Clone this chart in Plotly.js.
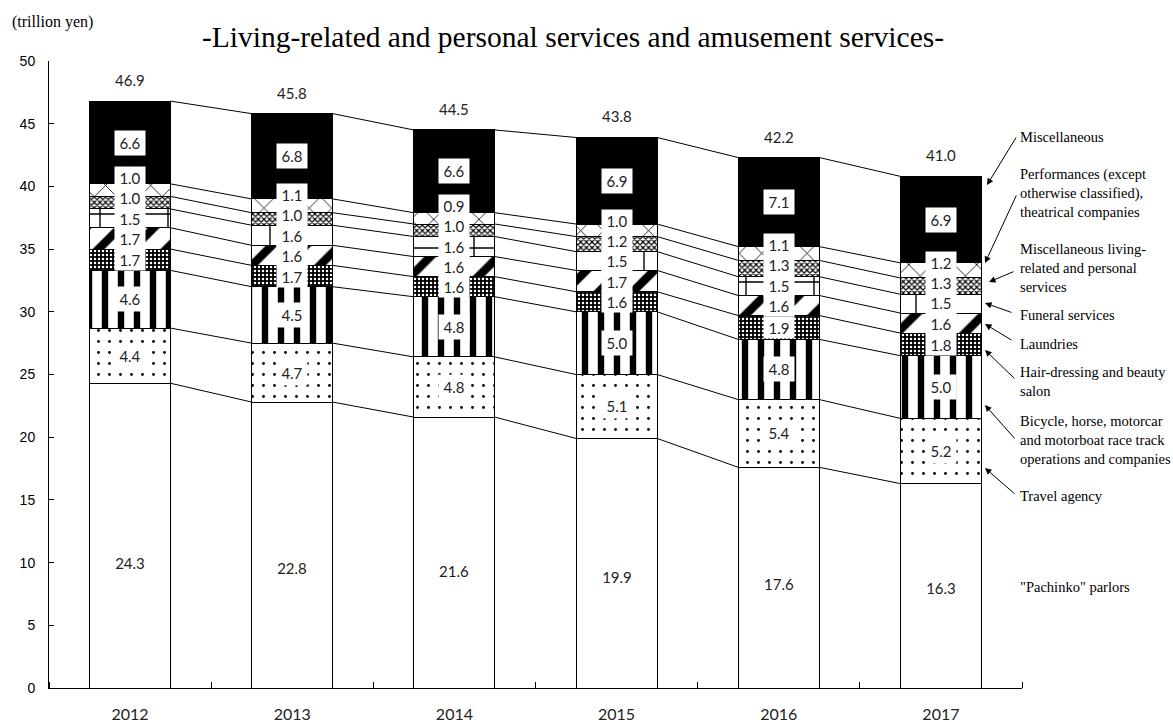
<!DOCTYPE html>
<html><head><meta charset="utf-8">
<script src="https://cdn.plot.ly/plotly-3.0.1.min.js"></script>
<style>body{margin:0;background:#fff}#chart{width:1173px;height:722px}</style>
</head><body><div id="chart"></div>
<script>
// ---- data (trillion yen) ----
const years = ['2012','2013','2014','2015','2016','2017'];
const totals = [46.9, 45.8, 44.5, 43.8, 42.2, 41.0];
const pachinko      = [24.3, 22.8, 21.6, 19.9, 17.6, 16.3];
const travelAgency  = [4.4, 4.7, 4.8, 5.1, 5.4, 5.2];
const raceTrack     = [4.6, 4.5, 4.8, 5.0, 4.8, 5.0];
const hairDressing  = [1.7, 1.7, 1.6, 1.6, 1.9, 1.8];
const laundries     = [1.7, 1.6, 1.6, 1.7, 1.6, 1.6];
const funeral       = [1.5, 1.6, 1.6, 1.5, 1.5, 1.5];
const miscLiving    = [1.0, 1.0, 1.0, 1.2, 1.3, 1.3];
const performances  = [1.0, 1.1, 0.9, 1.0, 1.1, 1.2];
const miscellaneous = [6.6, 6.8, 6.6, 6.9, 7.1, 6.9];

const seriesNames = ['"Pachinko" parlors','Travel agency',
  'Bicycle, horse, motorcar<br>and motorboat race track<br>operations and companies',
  'Hair-dressing and beauty<br>salon','Laundries','Funeral services',
  'Miscellaneous living-<br>related and personal<br>services',
  'Performances (except<br>otherwise classified),<br>theatrical companies','Miscellaneous'];
const seriesValues = [pachinko, travelAgency, raceTrack, hairDressing, laundries, funeral, miscLiving, performances, miscellaneous];

// ---- styles ----
const styles = [
  {color:'white'},
  {color:'white', pattern:{shape:'.', bgcolor:'white', fgcolor:'black', size:11, solidity:0.05}},
  {color:'white', pattern:{shape:'|', bgcolor:'white', fgcolor:'black', size:16, solidity:0.4}},
  {color:'black', pattern:{shape:'.', bgcolor:'black', fgcolor:'white', size:4, solidity:0.3}},
  {color:'white', pattern:{shape:'/', bgcolor:'white', fgcolor:'black', size:24, solidity:0.35}},
  {color:'white', pattern:{shape:'+', bgcolor:'white', fgcolor:'black', size:34, solidity:0.08}},
  {color:'white', pattern:{shape:'x', bgcolor:'white', fgcolor:'black', size:4, solidity:0.5}},
  {color:'white', pattern:{shape:'x', bgcolor:'white', fgcolor:'black', size:16, solidity:0.1}},
  {color:'black'}
];

const xs = years.map((_, i) => i);
const BW = 0.5;

const traces = seriesValues.map((vals, s) => ({
  type:'bar', x: xs, y: vals, width: BW, name: seriesNames[s],
  marker: Object.assign({line:{color:'black', width:1}}, styles[s]),
  hoverinfo:'skip', showlegend:false
}));

// cumulative levels
const cum = [];
seriesValues.forEach((vals, s) => {
  cum.push(vals.map((v, i) => (s ? cum[s-1][i] : 0) + v));
});

// connecting lines between bars
const lx = [], ly = [];
for (let s = 0; s < cum.length; s++) {
  for (let i = 0; i < xs.length - 1; i++) {
    lx.push(xs[i] + BW/2, xs[i+1] - BW/2, null);
    ly.push(cum[s][i], cum[s][i+1], null);
  }
}
traces.push({type:'scatter', mode:'lines', x:lx, y:ly, line:{color:'black', width:1}, hoverinfo:'skip', showlegend:false});

// ---- annotations ----
const numFont = {family:'Lato, "Noto Sans", sans-serif', size:15, color:'#222'};
const serif = 'Liberation Serif';
const ann = [];
const GAP = 1.62;
xs.forEach((x, i) => {
  let prev = -Infinity;
  seriesValues.forEach((vals, s) => {
    const bottom = s ? cum[s-1][i] : 0;
    const mid = bottom + vals[i] / 2;
    let y;
    if (s === 0) y = 0.25 * vals[i] + 3.9;
    else y = Math.max(mid, prev + GAP);
    prev = y;
    const big = vals[i] > 3;
    ann.push({x: x, y: y, xref:'x', yref:'y', text: vals[i].toFixed(1), showarrow:false,
      font: numFont,
      bgcolor: s === 0 ? 'rgba(0,0,0,0)' : 'white', width:30, height: big ? 24 : 21, borderpad:0});
  });
  ann.push({x: x, y: cum[cum.length-1][i], xref:'x', yref:'y', text: totals[i].toFixed(1), showarrow:false,
    yanchor:'bottom', yshift:10, font: numFont});
});

// plot area in px
const L = 49, R = 1022, T = 61, B = 688;
const px = v => (v - L) / (R - L);
const py = v => (B - v) / (B - T);

// right-hand labels: text centre y (px), arrow tip & tail (px)
const rightLabels = [
  {s:8, ty:137, tip:[987,185], tail:[1017,136]},
  {s:7, ty:193, tip:[985,263], tail:[1017,194]},
  {s:6, ty:268, tip:[989,282], tail:[1015,271]},
  {s:5, ty:315, tip:[985,303], tail:[1013,313]},
  {s:4, ty:344, tip:[985,324], tail:[1013,341]},
  {s:3, ty:381, tip:[985,350], tail:[1016,380]},
  {s:2, ty:440, tip:[985,405], tail:[1016,440]},
  {s:1, ty:496, tip:[985,468], tail:[1016,495]},
  {s:0, ty:587}
];
rightLabels.forEach(r => {
  ann.push({xref:'paper', yref:'paper', x: px(1018), y: py(r.ty), xanchor:'left', yanchor:'middle',
    align:'left', text: seriesNames[r.s], showarrow:false,
    font:{family: serif, size:14.5, color:'#000'}});
  if (r.tip) {
    ann.push({xref:'paper', yref:'paper', x: px(r.tip[0]), y: py(r.tip[1]), text:'', showarrow:true,
      axref:'pixel', ayref:'pixel', ax: r.tail[0]-r.tip[0], ay: r.tail[1]-r.tip[1],
      arrowhead:2, arrowsize:1.3, arrowwidth:1, arrowcolor:'black', standoff:0, startstandoff:0});
  }
});

ann.push({xref:'paper', yref:'paper', x: px(10), y: py(22), xanchor:'left', yanchor:'middle',
  text:'(trillion yen)', showarrow:false,
  font:{family: serif, size:16, color:'#000'}});

const layout = {
  width:1173, height:722,
  margin:{l:L, r:1173-R, t:T, b:722-B, pad:0},
  paper_bgcolor:'white', plot_bgcolor:'white',
  barmode:'stack', showlegend:false,
  title:{text:'-Living-related and personal services and amusement services-',
    font:{family: serif, size:29.5, color:'#000'},
    x:573/1173, xref:'container', xanchor:'center', y:1-37/722, yref:'container', yanchor:'middle'},
  xaxis:{range:[-0.5, 5.5], tickmode:'array', tickvals:xs, ticktext:years, ticks:'',
    showline:true, linecolor:'black', linewidth:1, showgrid:false, zeroline:false,
    ticklabelstandoff:12,
    tickfont:{family:'Lato, "Noto Sans", sans-serif', size:16, color:'#222'},
    minor:{tickmode:'linear', tick0:0.5, dtick:1, ticks:'inside', ticklen:6, tickcolor:'black', tickwidth:1, showgrid:false}},
  yaxis:{range:[0, 50], dtick:5, tick0:0, ticks:'inside', ticklen:5, tickcolor:'black',
    showline:true, linecolor:'black', linewidth:1, showgrid:false, zeroline:false,
    ticklabelstandoff:10,
    tickfont:{family:'"Liberation Sans", Arial, sans-serif', size:14, color:'#000'}},
  annotations: ann
};

Plotly.newPlot('chart', traces, layout, {displayModeBar:false, staticPlot:true});
</script>
</body></html>
